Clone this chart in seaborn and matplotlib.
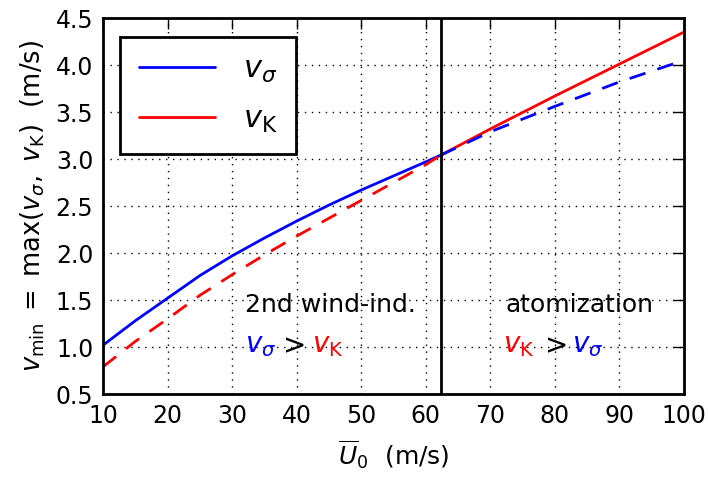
import matplotlib
matplotlib.use("Agg")
import matplotlib.pyplot as plt
import seaborn as sns
import pandas as pd

# --- data ---
U_low = [10, 15, 20, 25, 30, 35, 40, 45, 50, 55, 60, 62.3]
v_sigma_low = [1.02, 1.28, 1.52, 1.76, 1.97, 2.16, 2.34, 2.51, 2.67, 2.82, 2.97, 3.04]
v_K_low = [0.79, 1.06, 1.30, 1.55, 1.77, 1.98, 2.18, 2.37, 2.56, 2.75, 2.94, 3.04]
U_high = [62.3, 70, 80, 90, 100]
v_sigma_high = [3.04, 3.29, 3.56, 3.82, 4.05]
v_K_high = [3.04, 3.32, 3.67, 4.01, 4.35]
U_transition = 62.3
x_ticks = [10, 20, 30, 40, 50, 60, 70, 80, 90, 100]
y_ticks = [0.5, 1.0, 1.5, 2.0, 2.5, 3.0, 3.5, 4.0, 4.5]

sns.set_style("white")
plt.rcParams["font.family"] = ["DejaVu Sans"]
plt.rcParams["mathtext.fontset"] = "dejavusans"
plt.rcParams["text.color"] = "black"
plt.rcParams["axes.labelcolor"] = "black"

fig = plt.figure(figsize=(7.08, 4.8), dpi=100)
ax = fig.add_axes([0.1455, 0.179, 0.966 - 0.1455, 0.9625 - 0.179])

lo = pd.DataFrame({"U": U_low, "vs": v_sigma_low, "vk": v_K_low})
hi = pd.DataFrame({"U": U_high, "vs": v_sigma_high, "vk": v_K_high})

sns.lineplot(data=lo, x="U", y="vs", ax=ax, color="blue", lw=2, label=r"$v_\sigma$")
sns.lineplot(data=hi, x="U", y="vk", ax=ax, color="red", lw=2, label=r"$v_{\rm K}$")
sns.lineplot(data=lo, x="U", y="vk", ax=ax, color="red", lw=2, dashes=False, linestyle=(0, (6, 4.5)), legend=False)
sns.lineplot(data=hi, x="U", y="vs", ax=ax, color="blue", lw=2, dashes=False, linestyle=(0, (6, 4.5)), legend=False)
ax.axvline(U_transition, color="black", lw=2)

ax.set_xlim(10, 100)
ax.set_ylim(0.5, 4.5)
ax.set_xticks(x_ticks)
ax.set_yticks(y_ticks)
ax.grid(True, color="black", linestyle=(0, (1, 4)), lw=1)
for s in ax.spines.values():
    s.set_color("black")
    s.set_linewidth(2)
ax.tick_params(direction="in", length=8, width=1, top=True, right=True,
               labelsize=17, colors="black", pad=7)

ax.set_xlabel(r"$\overline{U}_0$  (m/s)", fontsize=18, labelpad=8)
ax.set_ylabel(r"$v_{\rm min}\;=\;\max(v_\sigma,\ v_{\rm K})$  (m/s)", fontsize=18.5, labelpad=6)

ax.text(32, 1.45, "2nd wind-ind.", fontsize=18, ha="left", va="center")
ax.text(32, 1.02, r"$v_\sigma$", fontsize=20, color="blue", ha="left", va="center")
ax.text(37, 1.02, r"$>$", fontsize=20, color="black", ha="left", va="center")
ax.text(42.4, 1.02, r"$v_{\rm K}$", fontsize=20, color="red", ha="left", va="center")

ax.text(72.4, 1.45, "atomization", fontsize=18, ha="left", va="center")
ax.text(72.0, 1.02, r"$v_{\rm K}$", fontsize=20, color="red", ha="left", va="center")
ax.text(77.6, 1.02, r"$>$", fontsize=20, color="black", ha="left", va="center")
ax.text(82.6, 1.02, r"$v_\sigma$", fontsize=20, color="blue", ha="left", va="center")

leg = ax.legend(loc="upper left", bbox_to_anchor=(0.03, 0.95), fontsize=22, frameon=True,
                fancybox=False, handlelength=2.5, handletextpad=0.9, labelspacing=0.65,
                borderpad=0.6, borderaxespad=0)
leg.get_frame().set_edgecolor("black")
leg.get_frame().set_linewidth(2)
leg.get_frame().set_alpha(1)

fig.savefig("out.png", dpi=100)
